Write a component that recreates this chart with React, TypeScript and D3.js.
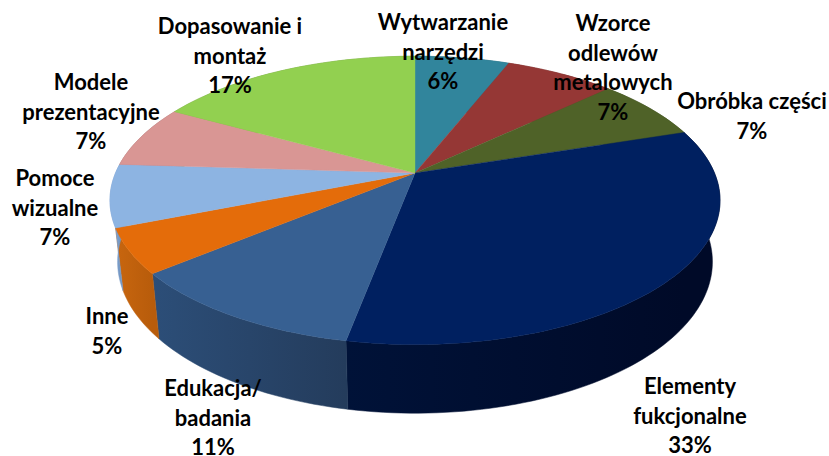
import React from "react";
import * as d3 from "d3";

const categories = [
  "Wytwarzanie narzędzi",
  "Wzorce odlewów metalowych",
  "Obróbka części",
  "Elementy fukcjonalne",
  "Edukacja/ badania",
  "Inne",
  "Pomoce wizualne",
  "Modele prezentacyjne",
  "Dopasowanie i montaż",
];
const shares = [6, 7, 7, 33, 11, 5, 7, 7, 17];
const labelLines = [
  ["Wytwarzanie", "narzędzi", "6%"],
  ["Wzorce", "odlewów", "metalowych", "7%"],
  ["Obróbka części", "7%"],
  ["Elementy", "fukcjonalne", "33%"],
  ["Edukacja/", "badania", "11%"],
  ["Inne", "5%"],
  ["Pomoce", "wizualne", "7%"],
  ["Modele", "prezentacyjne", "7%"],
  ["Dopasowanie i", "montaż", "17%"],
];
const topColors = ["#31859c", "#953735", "#4f6228", "#002060", "#376092", "#e46c0a", "#8db4e2", "#d99694", "#92d050"];
const wallFrom = ["#256577", "#712a28", "#3c4a1e", "#001238", "#2c4e78", "#c8660f", "#80a3d0", "#a87270", "#6f9e3c"];
const wallTo = ["#256577", "#712a28", "#3c4a1e", "#000a28", "#243c5c", "#b85c0b", "#7598c4", "#a87270", "#6f9e3c"];
const labelCenterX = [443, 613, 752, 690, 213, 107, 55, 91, 230];
const labelFirstY = [30, 31, 109, 394, 396, 324, 186, 90, 34];
const LINE_HEIGHT = 29.5;

const project = (a: number, cy: number, sx: number, sy: number): [number, number] => {
  const X = Math.sin(a);
  const Y = -Math.cos(a);
  const w = 1 - 0.19 * Y;
  return [415 + (sx * 299.5 * X) / w, cy + (sy * 139 * Y) / w];
};
const topPoint = (a: number) => project(a, 173, 1, 1);
const bottomPoint = (a: number) => project(a, 233, 0.975, 1.05);

const arcs = d3.pie<number>().sort(null).value((d) => d)(shares);
const line = d3.line();

export default function App() {
  const angleRange = (d: d3.PieArcDatum<number>) => {
    const n = Math.max(8, Math.ceil((d.endAngle - d.startAngle) * 40));
    return d3.range(n + 1).map((i) => d.startAngle + ((d.endAngle - d.startAngle) * i) / n);
  };
  return (
    <svg width={829} height={456} style={{ position: "absolute", left: 0, top: 0, background: "#fff" }}>
      <defs>
        {arcs.map((d, i) => {
          const a = topPoint(d.startAngle)[0];
          const b = topPoint(d.endAngle)[0];
          return (
            <linearGradient key={i} id={`wall${i}`} gradientUnits="userSpaceOnUse" x1={Math.min(a, b)} x2={Math.max(a, b)} y1={0} y2={0}>
              <stop offset="0" stopColor={wallFrom[i]} />
              <stop offset="1" stopColor={wallTo[i]} />
            </linearGradient>
          );
        })}
      </defs>
      {arcs.map((d, i) => {
        const as = angleRange(d);
        const pts = [...as.map(topPoint), ...as.slice().reverse().map(bottomPoint)];
        return <path key={categories[i]} d={line(pts) + "Z"} fill={`url(#wall${i})`} stroke={`url(#wall${i})`} strokeWidth={0.5} />;
      })}
      {arcs.map((d, i) => {
        const pts: [number, number][] = [[415, 173], ...angleRange(d).map(topPoint)];
        return <path key={categories[i]} d={line(pts) + "Z"} fill={topColors[i]} stroke={topColors[i]} strokeWidth={0.4} />;
      })}
      <g fontFamily="Lato" fontWeight={700} fontSize={22} textAnchor="middle" fill="#000">
        {labelLines.map((lines, i) => (
          <text key={i} x={labelCenterX[i]}>
            {lines.map((t, j) => (
              <tspan key={j} x={labelCenterX[i]} y={labelFirstY[i] + j * LINE_HEIGHT}>
                {t}
              </tspan>
            ))}
          </text>
        ))}
      </g>
    </svg>
  );
}
